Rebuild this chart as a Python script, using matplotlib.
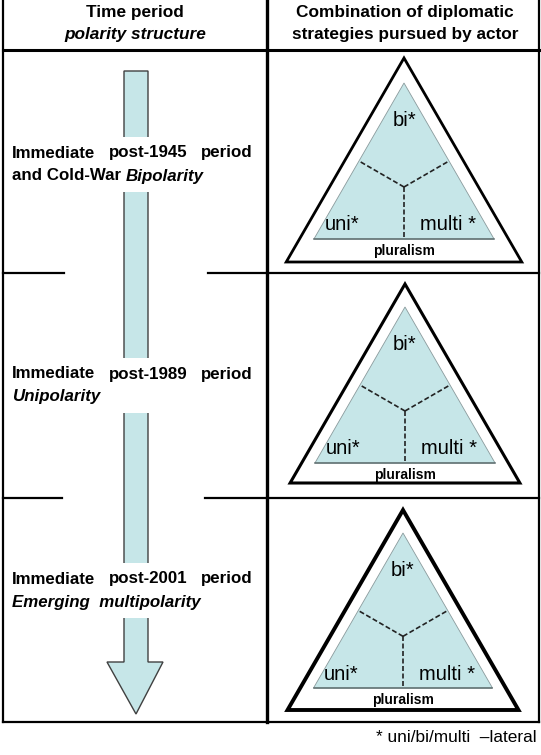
import matplotlib.pyplot as plt
from matplotlib.patches import Polygon, Rectangle

plt.rcParams['font.family'] = ['Liberation Sans', 'DejaVu Sans']

# Text content
header_left = ['Time period', 'polarity structure']
header_right = ['Combination of diplomatic', 'strategies pursued by actor']
period_words = [['Immediate', 'post-1945', 'period'],
                ['Immediate', 'post-1989', 'period'],
                ['Immediate', 'post-2001', 'period']]
second_plain = ['and Cold-War', '', '']
second_italic = ['Bipolarity', 'Unipolarity', 'Emerging  multipolarity']
corner_labels = ['bi*', 'uni*', 'multi *']
base_label = 'pluralism'
footnote = '* uni/bi/multi  \u2013lateral'

# Layout (pixel coordinates, y downwards)
W, H = 541, 755
text_y = [(153, 176), (374, 397), (579, 602)]
row_lines = [273, 498]
row_gaps = [(64, 208), (62, 205)]
tri_cx = [404, 405, 403]
outer_top = [58, 284, 510]
outer_base = [262, 483, 710]
inner_top = [83, 307, 533]
inner_base = [239, 463, 688]
outer_lw = [2.0, 2.2, 2.8]

fill = '#c6e6e8'
fs = 12.2
left_x, right_x = 12, 253

fig = plt.figure(figsize=(W / 100, H / 100), dpi=100)
ax = fig.add_axes([0, 0, 1, 1])
ax.set_xlim(0, W)
ax.set_ylim(H, 0)
ax.axis('off')
renderer = fig.canvas.get_renderer()


def text_width(t):
    return t.get_window_extent(renderer=renderer).width


# Table frame
ax.plot([3, 3], [0, 722], color='black', lw=1.6)
ax.plot([539, 539], [0, 722], color='black', lw=1.6)
ax.plot([267, 267], [0, 722], color='black', lw=2.4)
ax.plot([3, 539], [50, 50], color='black', lw=2.2)
ax.plot([3, 539], [722, 722], color='black', lw=1.6)
for y, (g1, g2) in zip(row_lines, row_gaps):
    ax.plot([3, g1], [y, y], color='black', lw=1.6)
    ax.plot([g2, 267], [y, y], color='black', lw=1.6)
    ax.plot([267, 539], [y, y], color='black', lw=1.6)

# Header text
ax.text(135, 13, header_left[0], ha='center', va='center', fontsize=12.4, fontweight='bold')
ax.text(135, 35, header_left[1], ha='center', va='center', fontsize=12.4,
        fontweight='bold', style='italic')
ax.text(405, 13, header_right[0], ha='center', va='center', fontsize=12.4, fontweight='bold')
ax.text(405, 35, header_right[1], ha='center', va='center', fontsize=12.4, fontweight='bold')

# Time arrow
shaft_l, shaft_r, shaft_top = 124, 148, 71
head_l, head_r, head_y, tip_y = 107, 163, 662, 714
arrow = Polygon([(shaft_l, shaft_top), (shaft_r, shaft_top), (shaft_r, head_y),
                 (head_r, head_y), ((shaft_l + shaft_r) / 2, tip_y),
                 (head_l, head_y), (shaft_l, head_y)],
                closed=True, facecolor=fill, edgecolor='#404040', lw=1.0, zorder=1)
ax.add_patch(arrow)

# Period text blocks (first line justified)
for i in range(3):
    y1, y2 = text_y[i]
    ax.add_patch(Rectangle((8, y1 - 16), 250, y2 - y1 + 32, facecolor='white',
                           edgecolor='none', zorder=2))
    w = period_words[i]
    kw = dict(va='center', fontsize=fs, fontweight='bold', zorder=3)
    t0 = ax.text(left_x, y1, w[0], ha='left', **kw)
    t2 = ax.text(right_x, y1, w[2], ha='right', **kw)
    t1 = ax.text(0, y1, w[1], ha='left', **kw)
    w0, w1, w2 = text_width(t0), text_width(t1), text_width(t2)
    gap = (right_x - left_x - w0 - w1 - w2) / 2
    t1.set_x(left_x + w0 + gap)
    if second_plain[i]:
        tp = ax.text(left_x, y2, second_plain[i] + ' ', ha='left', **kw)
        ax.text(left_x + text_width(tp), y2, second_italic[i], ha='left',
                style='italic', **kw)
    else:
        ax.text(left_x, y2, second_italic[i], ha='left', style='italic', **kw)

# Triangles
for i in range(3):
    cx = tri_cx[i]
    oh = outer_base[i] - outer_top[i]
    ohw = oh / 3 ** 0.5
    ax.add_patch(Polygon([(cx, outer_top[i]), (cx + ohw, outer_base[i]),
                          (cx - ohw, outer_base[i])], closed=True,
                         facecolor='white', edgecolor='black', lw=outer_lw[i],
                         joinstyle='miter'))
    ih = inner_base[i] - inner_top[i]
    ihw = ih / 3 ** 0.5
    top, base = inner_top[i], inner_base[i]
    ax.add_patch(Polygon([(cx, top), (cx + ihw, base), (cx - ihw, base)], closed=True,
                         facecolor=fill, edgecolor='#8a9a9c', lw=0.6))
    ax.plot([cx - ihw, cx + ihw], [base, base], color='#5f6f70', lw=1.1)
    # dashed spokes from centre to edge midpoints
    cy = top + ih * 2 / 3
    mid_y = (top + base) / 2
    for ex, ey in [(cx - ihw / 2, mid_y), (cx + ihw / 2, mid_y), (cx, base)]:
        ax.plot([cx, ex], [cy, ey], color='#222222', lw=1.2, ls=(0, (3, 1.5)))
    ax.text(cx, top + ih * 0.24, corner_labels[0], ha='center', va='center', fontsize=14.5)
    ax.text(cx - 62, base - 14, corner_labels[1], ha='center', va='center', fontsize=14.5)
    ax.text(cx + 44, base - 14, corner_labels[2], ha='center', va='center', fontsize=14.5)
    ax.text(cx, base + 12, base_label, ha='center', va='center', fontsize=10,
            fontweight='bold')

# Footnote
ax.text(537, 738, footnote, ha='right', va='center', fontsize=12.4)

fig.savefig('out.png', dpi=100)
